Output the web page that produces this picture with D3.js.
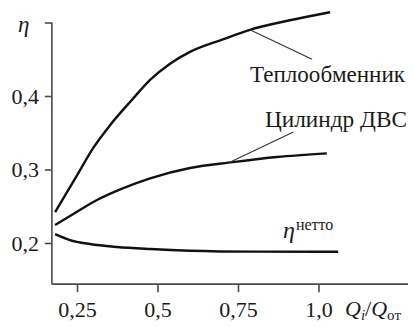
<!DOCTYPE html>
<html><head><meta charset="utf-8">
<script src="https://cdn.jsdelivr.net/npm/d3@7"></script>
<style>
html,body{margin:0;padding:0;background:#fff;}
svg{display:block;}
</style></head>
<body>
<svg id="c" width="413" height="327"></svg>
<script>
// Data
const heatX = [0.182,0.25,0.30,0.352,0.421,0.477,0.539,0.601,0.703,0.787,0.911,1.036];
const heatY = [0.242,0.292,0.329,0.360,0.395,0.422,0.444,0.460,0.477,0.490,0.503,0.514];
const cylX = [0.182,0.25,0.312,0.39,0.477,0.601,0.734,0.871,1.026];
const cylY = [0.2245,0.2425,0.2585,0.274,0.288,0.302,0.310,0.317,0.322];
const netX = [0.182,0.228,0.290,0.374,0.477,0.601,0.80,1.061];
const netY = [0.212,0.204,0.1986,0.1946,0.1918,0.1895,0.1882,0.188];
const xTicks = [0.25,0.5,0.75,1.0];
const xTickLabels = ["0,25","0,5","0,75","1,0"];
const yTicks = [0.2,0.3,0.4];
const yTickLabels = ["0,2","0,3","0,4"];
const labelHeat = "Теплообменник";
const labelCyl = "Цилиндр ДВС";

const FONT = "'Liberation Serif'";
const svg = d3.select("#c");
const x = d3.scaleLinear().domain([0.25,1.0]).range([77,318.5]);
const y = d3.scaleLinear().domain([0.2,0.4]).range([243,96]);
const xMin = 0.172, xMax = 1.278, yMin = 0.144, yMax = 0.5;
const axisColor = "#4a4a4a";

function txt(sel){ return sel.style("font-family",FONT).style("fill","#1a1a1a"); }
function fit(sel, w){ const n = sel.node(); if (n.getComputedTextLength() > 0) sel.attr("textLength", w).attr("lengthAdjust","spacingAndGlyphs"); return sel; }

// axes
const gx = svg.append("g").attr("transform",`translate(0,${y(yMin)})`)
  .call(d3.axisBottom(x).tickValues(xTicks).tickFormat((d,i)=>xTickLabels[i]).tickSize(8).tickSizeOuter(0).tickPadding(9));
gx.select(".domain").attr("d",`M${x(xMin)},0H${x(xMax)}`);
const gy = svg.append("g").attr("transform",`translate(${x(xMin)},0)`)
  .call(d3.axisLeft(y).tickValues(yTicks.concat([yMax])).tickFormat((d,i)=>i<yTickLabels.length?yTickLabels[i]:"").tickSize(7).tickSizeOuter(0).tickPadding(6));
gy.select(".domain").attr("d",`M0,${y(yMin)}V${y(yMax)}`);
[gx,gy].forEach(g=>{
  g.attr("font-family",null).attr("font-size",null);
  g.selectAll(".domain").attr("stroke",axisColor).attr("stroke-width",1.6);
  g.selectAll(".tick line").attr("stroke",axisColor).attr("stroke-width",1.6);
  txt(g.selectAll(".tick text")).style("font-size","22px");
});

// η at axis top
txt(svg.append("text").attr("x",18).attr("y",32)).style("font-size","23px").style("font-style","italic").text("η");

// curves
const line = d3.line().x(d=>x(d[0])).y(d=>y(d[1])).curve(d3.curveMonotoneX);
[[heatX,heatY],[cylX,cylY],[netX,netY]].forEach(([xs,ys])=>{
  svg.append("path").datum(xs.map((v,i)=>[v,ys[i]]))
    .attr("d",line).attr("fill","none").attr("stroke","#111").attr("stroke-width",2.4);
});

// leader lines
svg.append("line").attr("x1",x(0.787)).attr("y1",y(0.490)).attr("x2",x(0.98)).attr("y2",y(0.450))
  .attr("stroke","#333").attr("stroke-width",1.1);
svg.append("line").attr("x1",x(0.723)).attr("y1",y(0.3095)).attr("x2",x(0.922)).attr("y2",y(0.351))
  .attr("stroke","#333").attr("stroke-width",1.1);

// labels
fit(txt(svg.append("text").attr("x",250).attr("y",82)).style("font-size","23px").text(labelHeat), 155);
fit(txt(svg.append("text").attr("x",265).attr("y",127)).style("font-size","23px").text(labelCyl), 142);
const eta = txt(svg.append("text").attr("x",283).attr("y",238)).style("font-size","24px");
eta.append("tspan").style("font-style","italic").text("η");
eta.append("tspan").style("font-size","16px").attr("dy",-8).attr("dx",1).text("нетто");

// x axis label
const ql = txt(svg.append("text").attr("x",345).attr("y",316)).style("font-size","22px");
ql.append("tspan").style("font-style","italic").text("Q");
ql.append("tspan").style("font-style","italic").style("font-size","15px").attr("dy",4).text("i");
ql.append("tspan").attr("dy",-4).text("/");
ql.append("tspan").style("font-style","italic").text("Q");
ql.append("tspan").style("font-size","15px").attr("dy",4).text("от");
</script>
</body></html>
